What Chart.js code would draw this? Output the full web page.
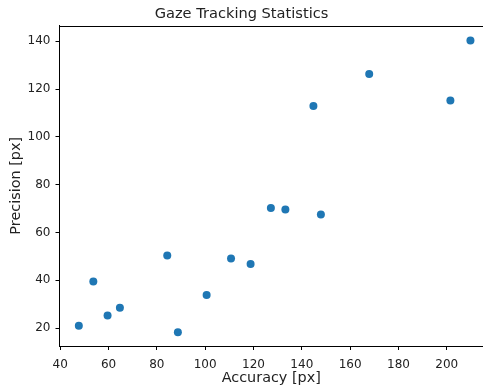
<!DOCTYPE html>
<html>
<head>
<meta charset="utf-8">
<script src="https://cdn.jsdelivr.net/npm/chart.js@4/dist/chart.umd.min.js"></script>
<style>
html,body{margin:0;padding:0;background:#fff;}
#wrap{width:483px;height:388px;position:relative;}
</style>
</head>
<body>
<div id="wrap"><canvas id="c" width="483" height="388"></canvas></div>
<script>
const accuracy = [209.8, 167.9, 144.8, 201.5, 127.2, 133.2, 147.9, 84.3, 110.7, 118.8, 53.7, 100.6, 64.7, 59.6, 47.7, 88.7];
const precision = [140.4, 126.3, 113.0, 115.2, 70.3, 69.6, 67.5, 50.4, 49.1, 46.8, 39.5, 33.8, 28.5, 25.3, 21.0, 18.3];
const xTicks = [40, 60, 80, 100, 120, 140, 160, 180, 200];
const yTicks = [20, 40, 60, 80, 100, 120, 140];

const points = accuracy.map((a, i) => ({x: a, y: precision[i]}));
const txt = '#222';
const fam = '"DejaVu Sans", sans-serif';

const topSpine = {
  id: 'topSpine',
  afterDraw(chart) {
    const {ctx, chartArea} = chart;
    ctx.save();
    ctx.strokeStyle = '#000';
    ctx.lineWidth = 1;
    ctx.beginPath();
    ctx.moveTo(chartArea.left, Math.round(chartArea.top) + 0.5);
    ctx.lineTo(chartArea.right + 2, Math.round(chartArea.top) + 0.5);
    ctx.stroke();
    ctx.restore();
  }
};

function noPad(s) { s.paddingLeft = 0; s.paddingRight = 0; s.paddingTop = 0; s.paddingBottom = 0; }

new Chart(document.getElementById('c'), {
  type: 'scatter',
  data: {
    datasets: [{
      data: points,
      backgroundColor: '#1f77b4',
      borderColor: '#1f77b4',
      pointRadius: 4,
      pointHoverRadius: 4,
      borderWidth: 0
    }]
  },
  options: {
    responsive: false,
    animation: false,
    events: [],
    layout: {autoPadding: false, padding: {left: 0, right: 0, top: 0, bottom: 0}},
    plugins: {
      legend: {display: false},
      tooltip: {enabled: false},
      title: {
        display: true,
        text: 'Gaze Tracking Statistics',
        color: txt,
        font: {family: fam, size: 14.6, weight: 'normal', lineHeight: 1.0},
        padding: {top: 6.5, bottom: 4.5}
      }
    },
    scales: {
      x: {
        type: 'linear',
        min: 39.7,
        max: 215,
        afterBuildTicks: s => { s.ticks = xTicks.map(v => ({value: v})); },
        afterFit: s => { s.height = 42; noPad(s); },
        grid: {display: true, drawOnChartArea: false, drawTicks: true, tickLength: 4, color: '#000', tickColor: '#000'},
        border: {display: true, color: '#000', width: 1},
        ticks: {color: txt, font: {family: fam, size: 12}, padding: 7.5, maxRotation: 0, autoSkip: false},
        title: {display: true, text: 'Accuracy [px]', color: txt, font: {family: fam, size: 14.4}, padding: {top: 0, bottom: 1}}
      },
      y: {
        type: 'linear',
        min: 12.5,
        max: 146.6,
        afterBuildTicks: s => { s.ticks = yTicks.map(v => ({value: v})); },
        afterFit: s => { s.width = 59.5; noPad(s); },
        grid: {display: true, drawOnChartArea: false, drawTicks: true, tickLength: 4, color: '#000', tickColor: '#000'},
        border: {display: true, color: '#000', width: 1},
        ticks: {color: txt, font: {family: fam, size: 12}, padding: 5, autoSkip: false},
        title: {display: true, text: 'Precision [px]', color: txt, font: {family: fam, size: 14.4}, padding: {top: 8, bottom: 0}}
      }
    }
  },
  plugins: [topSpine]
});
</script>
</body>
</html>
